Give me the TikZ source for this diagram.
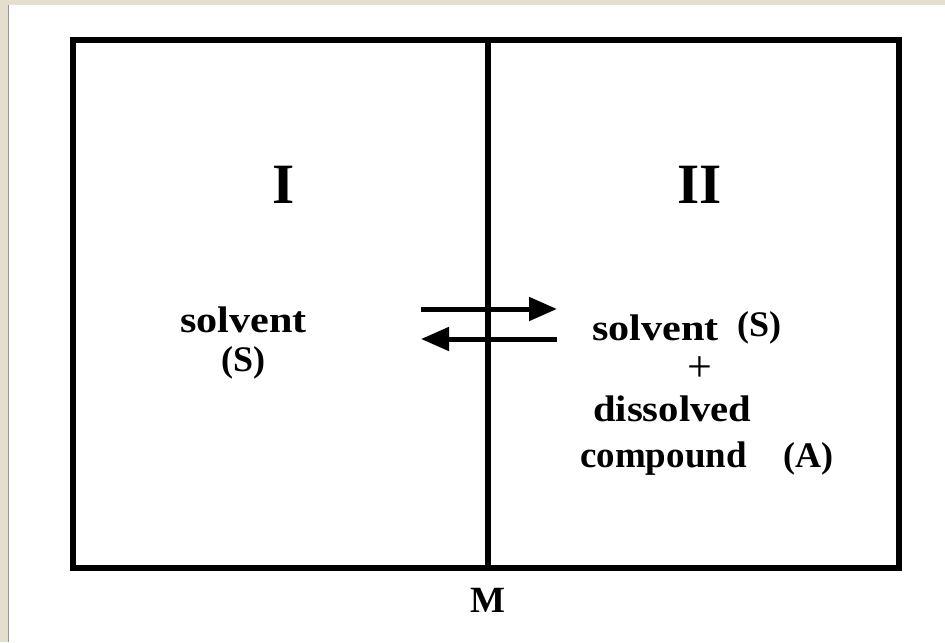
\documentclass[tikz,border=0pt]{standalone}
\usepackage{fontspec}
\setmainfont{Liberation Serif}
\usetikzlibrary{arrows.meta}
\definecolor{beige}{RGB}{228,222,207}
\definecolor{edgegray}{RGB}{150,150,150}
\begin{document}
\begin{tikzpicture}[x=1pt,y=-1pt,
  lbl/.style={inner sep=0pt, anchor=base west, font=\bfseries\fontsize{37}{42}\selectfont},
  paren/.style={inner sep=0pt, anchor=base west, font=\bfseries\fontsize{36}{40}\selectfont},
  roman/.style={inner sep=0pt, anchor=base, font=\bfseries\fontsize{57}{60}\selectfont},
  wall/.style={line width=6pt, line join=miter},
  flow/.style={line width=5pt, -{Triangle[length=28pt,width=23pt]}}]
\fill[beige] (0,0) rectangle (945,642);
\fill[white] (8,5) rectangle (945,642);
\draw[edgegray, line width=1pt] (8.5,5) -- (8.5,642);
\useasboundingbox (0,0) rectangle (945,642);
% box and membrane
\coordinate (tl) at (73,39.5);
\coordinate (br) at (899,567.5);
\coordinate (mt) at (488,39.5);
\coordinate (mb) at (488,567.5);
\draw[wall] (tl) rectangle (br);
\draw[wall] (mt) -- (mb);
% arrows
\coordinate (a1s) at (421,309);
\coordinate (a1e) at (557,309);
\coordinate (a2s) at (557,339);
\coordinate (a2e) at (421,339);
\draw[flow] (a1s) -- (a1e);
\draw[flow] (a2s) -- (a2e);
% labels
\node[roman] (one) at (284,203) {I};
\node[roman] (two) at (700,203) {II};
\node[lbl] (solL) at (180,332) {\scalebox{1.14}[1]{solvent}};
\node[paren] (sL) at (221,371) {(S)};
\node[lbl] (solR) at (592,340) {\scalebox{1.14}[1]{solvent}};
\node[paren] (sR) at (737,336) {(S)};
\node[inner sep=0pt, anchor=base, font=\fontsize{44}{48}\selectfont] (plus) at (700,381) {+};
\node[lbl] (diss) at (593,421) {\scalebox{1.1}[1]{dissolved}};
\node[lbl] (comp) at (580,467) {compound};
\node[paren] (aR) at (783,467) {(A)};
\node[inner sep=0pt, anchor=base, font=\bfseries\fontsize{37}{40}\selectfont] (m) at (488,612) {M};
\end{tikzpicture}
\end{document}
